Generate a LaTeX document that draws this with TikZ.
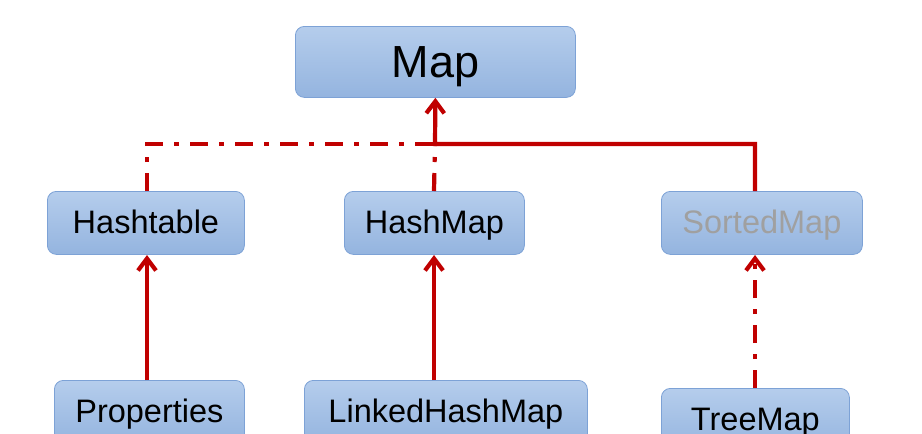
\documentclass[tikz,border=0pt]{standalone}
\usepackage{fontspec}
\setmainfont{Liberation Sans}
\usetikzlibrary{arrows.meta}
\definecolor{linkred}{HTML}{C00000}
\definecolor{boxtop}{HTML}{B5CDEC}
\definecolor{boxbot}{HTML}{94B4DF}
\definecolor{boxedge}{HTML}{7DA2D6}
\definecolor{graytext}{HTML}{A0A0A0}
\tikzset{
  x=1pt,y=-1pt,
  cls/.style={draw=boxedge, line width=0.8pt, rounded corners=9pt, top color=boxtop, bottom color=boxbot, anchor=north west, inner sep=0pt, text height=22pt, text depth=0pt, font=\fontsize{32.5}{36}\selectfont},
  rel/.style={draw=linkred, line width=4.2pt},
  dashdot/.style={rel, dash pattern=on 18pt off 11pt on 5pt off 11pt},
  tip/.style={-{Straight Barb[length=12pt,width=18pt]}}
}
\begin{document}
\begin{tikzpicture}
\useasboundingbox (0,0) rectangle (922,434);
\clip (0,0) rectangle (922,434);
\node[cls, minimum width=280pt, minimum height=71pt, text height=32pt, font=\fontsize{45}{50}\selectfont] (map) at (295,26) {Map};
\node[cls, minimum width=197pt, minimum height=63pt] (hashtable) at (47,191) {Hashtable};
\node[cls, minimum width=180pt, minimum height=63pt] (hashmap) at (344,191) {HashMap};
\node[cls, minimum width=201pt, minimum height=63pt, text=graytext] (sortedmap) at (661,191) {SortedMap};
\node[cls, minimum width=190pt, minimum height=63pt] (properties) at (54,380) {Properties};
\node[cls, minimum width=283pt, minimum height=63pt] (linked) at (304,380) {LinkedHashMap};
\node[cls, minimum width=188pt, minimum height=63pt] (treemap) at (661,388) {TreeMap};
\coordinate (join) at (435,144);
% implements (dash-dot)
\draw[dashdot] (hashtable.north west) ++(100,0) |- (join);
\draw[dashdot] (hashmap.north west) ++(90,0) -- (join);
% extends (solid)
\draw[rel, tip] (sortedmap.north west) ++(94,0) |- (join) -- (map.south);
\draw[rel, tip] (properties.north west) ++(93,0) -- ++(0,-125);
\draw[rel, tip] (linked.north west) ++(130,0) -- ++(0,-125);
\draw[dashdot, tip] (treemap.north west) ++(94,0) -- ++(0,-133);
\end{tikzpicture}
\end{document}
